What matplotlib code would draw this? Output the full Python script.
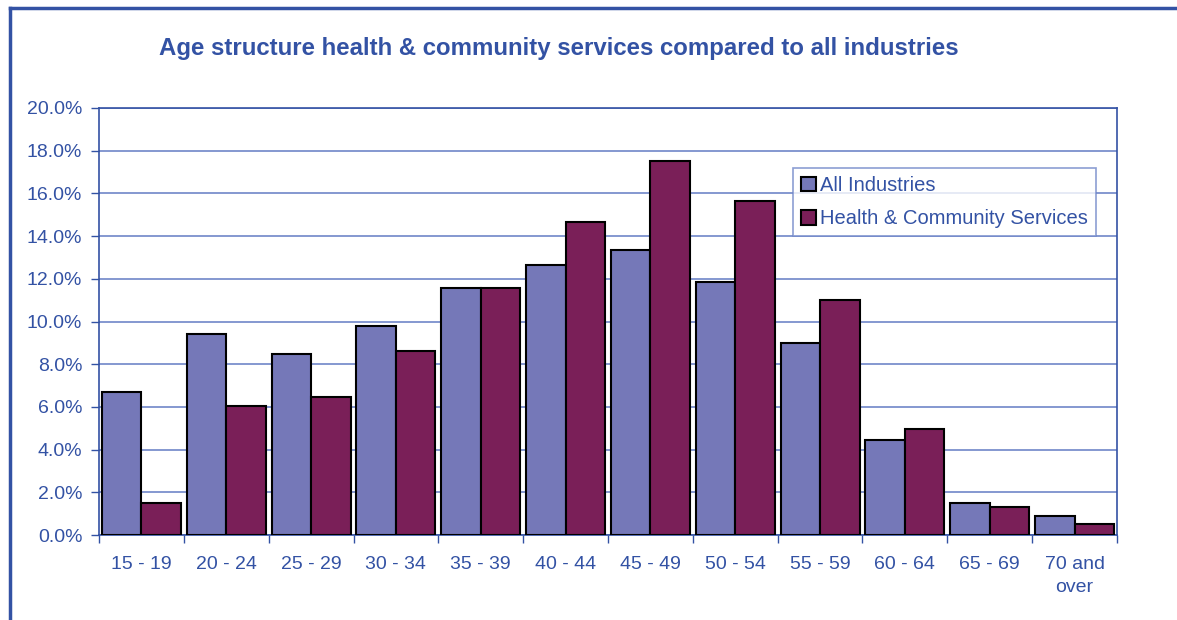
import numpy as np
import matplotlib.pyplot as plt
from matplotlib.lines import Line2D

plt.rcParams['font.family'] = ['Liberation Sans', 'DejaVu Sans']

age_groups = ['15 - 19', '20 - 24', '25 - 29', '30 - 34', '35 - 39', '40 - 44',
              '45 - 49', '50 - 54', '55 - 59', '60 - 64', '65 - 69', '70 and\nover']
all_industries = [6.7, 9.4, 8.5, 9.8, 11.55, 12.65, 13.35, 11.85, 9.0, 4.45, 1.5, 0.9]
health_community = [1.5, 6.05, 6.45, 8.6, 11.55, 14.65, 17.5, 15.65, 11.0, 4.95, 1.3, 0.5]

TEXT = '#3352a4'
GRID = '#6f86c8'
C_ALL = '#7578b8'
C_HEALTH = '#7a1f58'

fig = plt.figure(figsize=(11.77, 6.2), dpi=100)
ax = fig.add_axes([99 / 1177, 85 / 620, 1018 / 1177, 427 / 620])

# outer chart frame (cropped on right and bottom)
fig.add_artist(Line2D([10 / 1177, 1.0], [1 - 8 / 620, 1 - 8 / 620], color='#3352a4', lw=2.5,
                      transform=fig.transFigure))
fig.add_artist(Line2D([10 / 1177, 10 / 1177], [0.0, 1 - 8 / 620], color='#3352a4', lw=2.5,
                      transform=fig.transFigure))

x = np.arange(len(age_groups))
w = 0.465
ax.bar(x - w / 2, all_industries, w, color=C_ALL, edgecolor='black', lw=1.5,
       label='All Industries', zorder=3)
ax.bar(x + w / 2, health_community, w, color=C_HEALTH, edgecolor='black', lw=1.5,
       label='Health & Community Services', zorder=3)

ax.set_xlim(-0.5, len(age_groups) - 0.5)
ax.set_ylim(0, 20)
ax.set_yticks(np.arange(0, 21, 2))
ax.set_yticklabels([f'{v:.1f}%' for v in np.arange(0, 21, 2)])
ax.set_xticks(x)
ax.set_xticklabels(age_groups, linespacing=1.5)
ax.set_xticks(np.arange(-0.5, len(age_groups)), minor=True)
ax.tick_params(axis='x', which='major', length=0, pad=15, labelsize=14, labelcolor=TEXT)
ax.tick_params(axis='x', which='minor', length=6, width=1, color=TEXT, direction='out')
ax.tick_params(axis='y', length=6, width=1, color=TEXT, labelsize=14, labelcolor=TEXT, pad=6)

ax.grid(axis='y', color=GRID, lw=1.2, zorder=0)
for s in ax.spines.values():
    s.set_color(TEXT)
    s.set_linewidth(1.2)

fig.text(559 / 1177, 1 - 48 / 620,
         'Age structure health & community services compared to all industries',
         ha='center', va='center', fontsize=17.3, fontweight='bold', color=TEXT)

leg = ax.legend(loc='upper left', bbox_to_anchor=((793 - 99) / 1018, (535 - 168) / 427),
                fontsize=14.5, frameon=True, fancybox=False, edgecolor=GRID,
                handlelength=0.75, handleheight=0.75, handletextpad=0.2,
                borderpad=0.4, labelspacing=0.7, borderaxespad=0)
leg.get_frame().set_linewidth(1.2)
for t in leg.get_texts():
    t.set_color(TEXT)

fig.savefig('out.png', dpi=100)
